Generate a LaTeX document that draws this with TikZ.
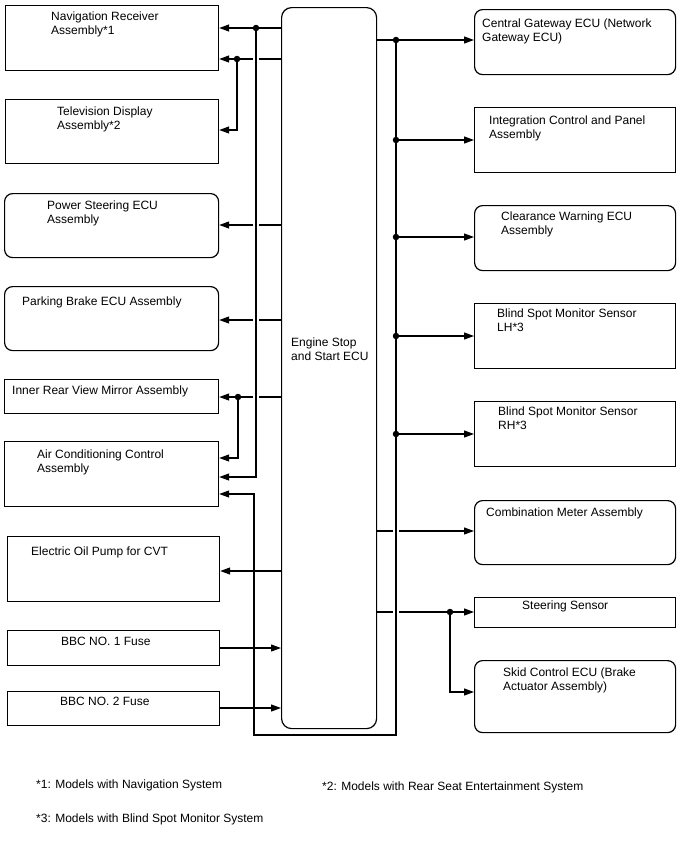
\documentclass[tikz,border=0pt]{standalone}
\usepackage{fontspec}
\setmainfont{Liberation Sans}
\usetikzlibrary{arrows.meta}
\begin{document}
\begin{tikzpicture}[x=1pt,y=-1pt,
  box/.style={draw, line width=1.2pt, inner sep=0pt, anchor=north west},
  rbox/.style={box, rounded corners=8pt},
  txt/.style={inner sep=0pt, anchor=north west, align=left, font=\fontsize{12}{14}\selectfont},
  conn/.style={line width=1.2pt},
  arr/.style={conn, -{Triangle[length=10pt,width=7pt]}},
  jdot/.style={circle, fill, inner sep=0pt, minimum size=6.5pt}]
\useasboundingbox (0,0) rectangle (688,852);

% left boxes
\node[box, minimum width=213, minimum height=65] (nav) at (5,5) {};
\node[box, minimum width=213, minimum height=64] (tv) at (5,99) {};
\node[rbox, minimum width=214, minimum height=64] (ps) at (4,193) {};
\node[rbox, minimum width=214, minimum height=64] (pb) at (4,286) {};
\node[box, minimum width=214, minimum height=34] (irm) at (4,379) {};
\node[box, minimum width=214, minimum height=65] (ac) at (4,441) {};
\node[box, minimum width=212, minimum height=65] (eop) at (7,536) {};
\node[box, minimum width=212, minimum height=35] (bbca) at (7,630) {};
\node[box, minimum width=212, minimum height=34] (bbcb) at (7,691) {};
% ECU
\node[box, rounded corners=10pt, minimum width=95, minimum height=721] (ecu) at (281,7) {};
% right boxes
\node[rbox, minimum width=201, minimum height=65] (cg) at (474,9) {};
\node[box, minimum width=201, minimum height=65] (ic) at (474,107) {};
\node[rbox, minimum width=201, minimum height=65] (cw) at (474,205) {};
\node[box, minimum width=201, minimum height=65] (bl) at (474,303) {};
\node[box, minimum width=201, minimum height=65] (br) at (474,401) {};
\node[rbox, minimum width=201, minimum height=64] (cm) at (474,500) {};
\node[box, minimum width=201, minimum height=30] (ss) at (474,597) {};
\node[rbox, minimum width=201, minimum height=72] (sk) at (474,660) {};

% texts
\node[txt] (navT) at (51,12) {Navigation Receiver\\Assembly*1};
\node[txt] (tvT) at (57,107) {Television Display\\Assembly*2};
\node[txt] (psT) at (47,201) {Power Steering ECU\\Assembly};
\node[txt] (pbT) at (22,297) {Parking Brake ECU Assembly};
\node[txt] (irmT) at (12,386) {Inner Rear View Mirror Assembly};
\node[txt] (acT) at (37,450) {Air Conditioning Control\\Assembly};
\node[txt] (eopT) at (31,547) {Electric Oil Pump for CVT};
\node[txt] (bbcaT) at (61,637) {BBC NO. 1 Fuse};
\node[txt] (bbcbT) at (60,697) {BBC NO. 2 Fuse};
\node[txt] (ecuT) at (291,338) {Engine Stop\\and Start ECU};
\node[txt] (cgT) at (482,19) {Central Gateway ECU (Network\\Gateway ECU)};
\node[txt] (icT) at (489,116) {Integration Control and Panel\\Assembly};
\node[txt] (cwT) at (501,212) {Clearance Warning ECU\\Assembly};
\node[txt] (blT) at (497,309) {Blind Spot Monitor Sensor\\LH*3};
\node[txt] (brT) at (498,407) {Blind Spot Monitor Sensor\\RH*3};
\node[txt] (cmT) at (486,508) {Combination Meter Assembly};
\node[txt] (ssT) at (522,601) {Steering Sensor};
\node[txt] (skT) at (503,668) {Skid Control ECU (Brake\\Actuator Assembly)};
\node[txt] (n1) at (36,780) {*1: Models with Navigation System};
\node[txt] (n2) at (322,782) {*2: Models with Rear Seat Entertainment System};
\node[txt] (n3) at (36,814) {*3: Models with Blind Spot Monitor System};

% junction coordinates (left)
\coordinate (jA) at (256,28);
\coordinate (jA2) at (256,477);
\coordinate (xB) at (256,59);
\coordinate (jB) at (237,59);
\coordinate (jB2) at (237,130);
\coordinate (xP) at (256,225);
\coordinate (xQ) at (256,320);
\coordinate (xM) at (256,397);
\coordinate (jC) at (238,397);
\coordinate (jC2) at (238,458);
\coordinate (yE) at (254,571);
\coordinate (yF) at (254,648);
\coordinate (yG) at (254,708);
\coordinate (l494) at (254,494);
\coordinate (lb) at (254,735);
% right
\coordinate (r0) at (396,40);
\coordinate (r1) at (396,140);
\coordinate (r2) at (396,237);
\coordinate (r3) at (396,336);
\coordinate (r4) at (396,434);
\coordinate (xC) at (396,531);
\coordinate (xS) at (396,612);
\coordinate (rb) at (396,735);
\coordinate (s1) at (450,612);
\coordinate (s2) at (450,692);

% left connectors
\draw[arr] (ecu.west|-jA) -- (nav.east|-jA);
\draw[arr] (jA) -- (jA2) -- (ac.east|-jA2);
\draw[conn] (ecu.west|-xB) -- ([xshift=3pt]xB);
\draw[arr] ([xshift=-3pt]xB) -- (nav.east|-xB);
\draw[arr] (jB) -- (jB2) -- (tv.east|-jB2);
\draw[conn] (ecu.west|-xP) -- ([xshift=3pt]xP);
\draw[arr] ([xshift=-3pt]xP) -- (ps.east|-xP);
\draw[conn] (ecu.west|-xQ) -- ([xshift=3pt]xQ);
\draw[arr] ([xshift=-3pt]xQ) -- (pb.east|-xQ);
\draw[conn] (ecu.west|-xM) -- ([xshift=3pt]xM);
\draw[arr] ([xshift=-3pt]xM) -- (irm.east|-xM);
\draw[arr] (jC) -- (jC2) -- (ac.east|-jC2);
\draw[arr] (ecu.west|-yE) -- (eop.east|-yE);
\draw[arr] (bbca.east|-yF) -- (ecu.west|-yF);
\draw[arr] (bbcb.east|-yG) -- (ecu.west|-yG);

% right connectors
\draw[arr] (ecu.east|-r0) -- (cg.west|-r0);
\draw[arr] (r0) -- (rb) -- (lb) -- (l494) -- (ac.east|-l494);
\draw[arr] (r1) -- (ic.west|-r1);
\draw[arr] (r2) -- (cw.west|-r2);
\draw[arr] (r3) -- (bl.west|-r3);
\draw[arr] (r4) -- (br.west|-r4);
\draw[conn] (ecu.east|-xC) -- ([xshift=-3pt]xC);
\draw[arr] ([xshift=3pt]xC) -- (cm.west|-xC);
\draw[conn] (ecu.east|-xS) -- ([xshift=-3pt]xS);
\draw[arr] ([xshift=3pt]xS) -- (ss.west|-xS);
\draw[arr] (s1) -- (s2) -- (sk.west|-s2);

% dots
\node[jdot] (dA) at (jA) {};
\node[jdot] (dB) at (jB) {};
\node[jdot] (dC) at (jC) {};
\node[jdot] (d0) at (r0) {};
\node[jdot] (d1) at (r1) {};
\node[jdot] (d2) at (r2) {};
\node[jdot] (d3) at (r3) {};
\node[jdot] (d4) at (r4) {};
\node[jdot] (dS) at (s1) {};
\end{tikzpicture}
\end{document}
